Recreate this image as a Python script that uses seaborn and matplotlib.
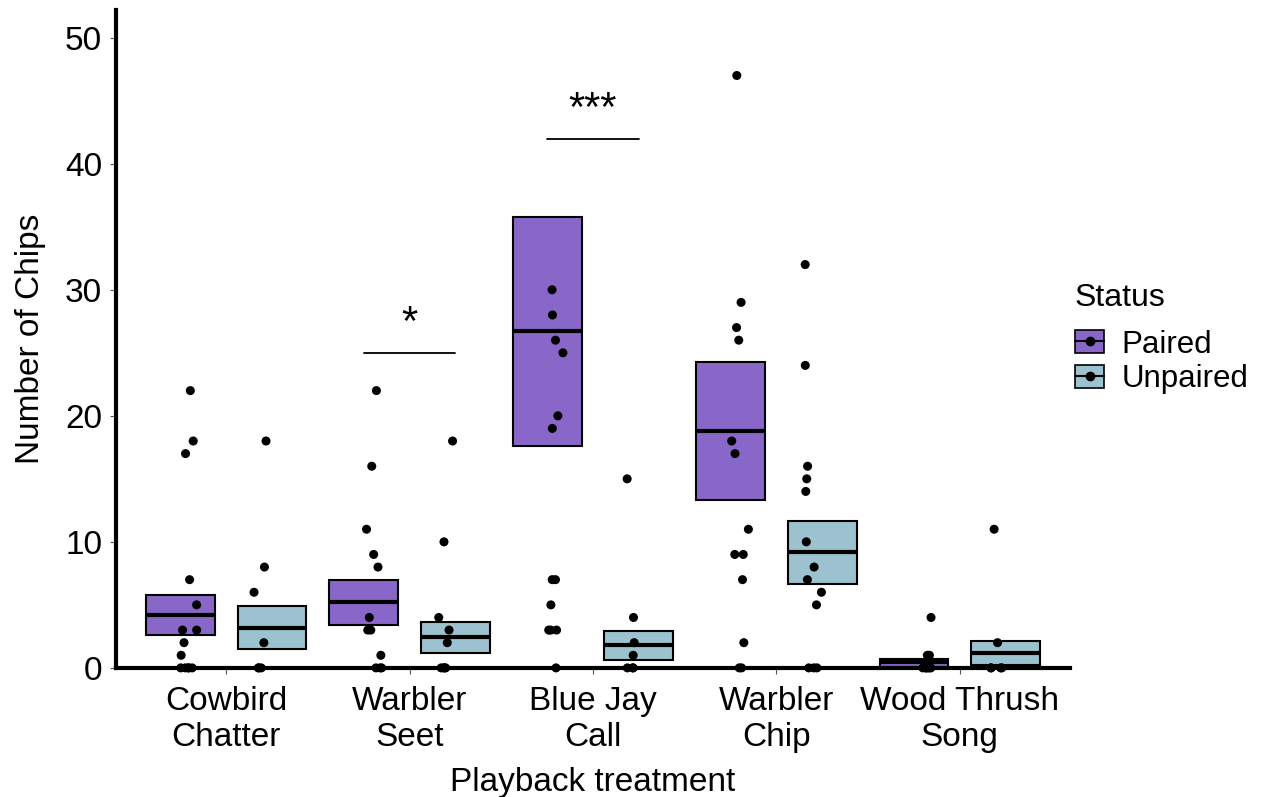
import numpy as np
import pandas as pd
import matplotlib
matplotlib.use("Agg")
import matplotlib.pyplot as plt
from matplotlib.patches import Patch
from matplotlib.lines import Line2D
import seaborn as sns

categories = ["Cowbird\nChatter", "Warbler\nSeet", "Blue Jay\nCall", "Warbler\nChip", "Wood Thrush\nSong"]
statuses = ["Paired", "Unpaired"]

# individual observations (number of chips)
paired_points = [
    [22, 18, 17, 7, 5, 3, 3, 2, 1, 0, 0, 0, 0, 0],
    [22, 16, 11, 9, 8, 4, 3, 3, 1, 0, 0, 0],
    [30, 28, 26, 25, 20, 19, 7, 7, 5, 3, 3, 3, 0],
    [47, 29, 27, 26, 18, 17, 11, 9, 9, 7, 2, 0, 0],
    [4, 1, 1, 0, 0, 0, 0, 0, 0],
]
unpaired_points = [
    [18, 8, 6, 2, 0, 0, 0],
    [18, 10, 4, 3, 2, 0, 0, 0, 0],
    [15, 4, 2, 1, 0, 0, 0],
    [32, 24, 16, 15, 14, 10, 8, 7, 6, 5, 0, 0, 0],
    [11, 2, 0, 0, 0, 0],
]

# crossbar summaries (mean, lower, upper)
paired_mean = [4.2, 5.2, 26.7, 18.8, 0.45]
paired_lower = [2.57, 3.44, 17.6, 13.3, 0.1]
paired_upper = [5.77, 6.96, 35.8, 24.25, 0.69]
unpaired_mean = [3.2, 2.43, 1.8, 9.2, 1.17]
unpaired_lower = [1.48, 1.16, 0.63, 6.67, 0.24]
unpaired_upper = [4.89, 3.65, 2.92, 11.65, 2.12]

# significance annotations
sig_category = [1, 2]
sig_height = [25, 42]
sig_label = ["*", "***"]

colors = {"Paired": "#8967C9", "Unpaired": "#9BC2CE"}

rows = []
for i, cat in enumerate(categories):
    for v in paired_points[i]:
        rows.append((cat, "Paired", v))
    for v in unpaired_points[i]:
        rows.append((cat, "Unpaired", v))
df = pd.DataFrame(rows, columns=["treatment", "Status", "chips"])

sns.set_theme(style="white")
plt.rcParams["font.family"] = ["Liberation Sans", "DejaVu Sans"]
plt.rcParams["text.color"] = "black"
plt.rcParams["axes.labelcolor"] = "black"

fig = plt.figure(figsize=(12.61, 7.97), dpi=100)
ax = fig.add_axes([0.092, 0.162, 0.7565, 0.8255])

offset = 0.25
width = 0.375
x = np.arange(len(categories))
for status, sign, mean, lo, hi in [
    ("Paired", -1, paired_mean, paired_lower, paired_upper),
    ("Unpaired", 1, unpaired_mean, unpaired_lower, unpaired_upper),
]:
    pos = x + sign * offset
    lo = np.array(lo); hi = np.array(hi)
    ax.bar(pos, hi - lo, bottom=lo, width=width, color=colors[status],
           edgecolor="black", linewidth=1.5, zorder=2)
    ax.hlines(mean, pos - width / 2, pos + width / 2, colors="black",
              linewidth=3, zorder=3)

np.random.seed(3)
sns.stripplot(data=df, x="treatment", y="chips", hue="Status", order=categories,
              hue_order=statuses, dodge=True, jitter=0.1, palette=["black", "black"],
              size=6.5, linewidth=0, ax=ax, legend=False, zorder=4, clip_on=False)

for c, h, lab in zip(sig_category, sig_height, sig_label):
    ax.plot([c - offset, c + offset], [h, h], color="black", linewidth=1.3)
    ax.text(c, h + 0.7, lab, ha="center", va="bottom", fontsize=30)

ax.set_xlim(-0.6, 4.6)
ax.set_ylim(0, 52.2)
ax.set_yticks([0, 10, 20, 30, 40, 50])
ax.set_xlabel("Playback treatment", fontsize=24, labelpad=10)
ax.set_ylabel("Number of Chips", fontsize=24, labelpad=14)
ax.tick_params(axis="both", labelsize=24, length=4, width=0.8, color="#555555",
               labelcolor="black", left=True, bottom=True)
ax.tick_params(axis="x", pad=9)
ax.tick_params(axis="y", pad=6)
for s in ["top", "right"]:
    ax.spines[s].set_visible(False)
for s in ["left", "bottom"]:
    ax.spines[s].set_linewidth(3)
    ax.spines[s].set_color("black")
    ax.spines[s].set_zorder(5)

handles = []
for st in statuses:
    handles.append((Patch(facecolor=colors[st], edgecolor="black", linewidth=1.2),
                    Line2D([], [], color="black", linewidth=1.5, marker="o",
                           markersize=6)))
leg = ax.legend(handles, statuses, title="Status", loc="upper left",
                bbox_to_anchor=(1.005, 0.585), frameon=False, fontsize=22.5,
                title_fontsize=23, handlelength=0.95, handleheight=0.75,
                handletextpad=0.55, labelspacing=0.15, borderaxespad=0,
                borderpad=0)
leg._legend_box.align = "left"
leg._legend_box.sep = 12

fig.savefig("out.png", dpi=100)
